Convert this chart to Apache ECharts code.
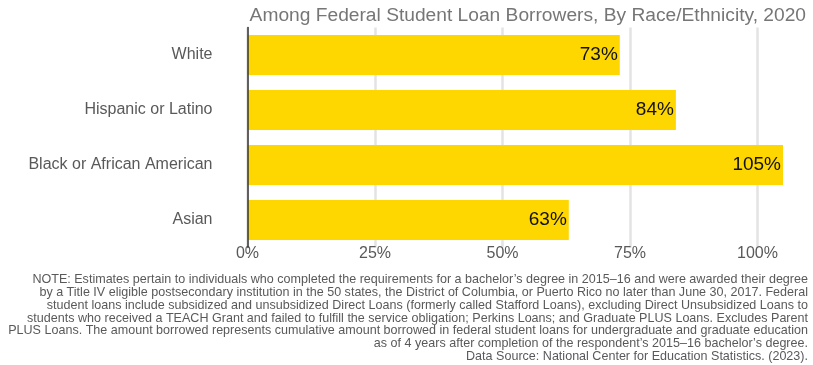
<!DOCTYPE html>
<html>
<head>
<meta charset="utf-8">
<script src="https://cdn.jsdelivr.net/npm/echarts@6/dist/echarts.min.js"></script>
<style>
  html, body { margin: 0; padding: 0; background: #fff; }
  #chart { width: 813px; height: 365px; }
</style>
</head>
<body>
<div id="chart"></div>
<script>
// Groups, listed top to bottom
const categories = ['White', 'Hispanic or Latino', 'Black or African American', 'Asian'];
// Share borrowed, percent
const values = [73, 84, 105, 63];
// Percent axis ticks
const tickValues = [0, 25, 50, 75, 100];

const titleText = 'Among Federal Student Loan Borrowers, By Race/Ethnicity, 2020';
const noteLines = [
  'NOTE: Estimates pertain to individuals who completed the requirements for a bachelor\u2019s degree in 2015\u201316 and were awarded their degree',
  'by a Title IV eligible postsecondary institution in the 50 states, the District of Columbia, or Puerto Rico no later than June 30, 2017. Federal',
  'student loans include subsidized and unsubsidized Direct Loans (formerly called Stafford Loans), excluding Direct Unsubsidized Loans to',
  'students who received a TEACH Grant and failed to fulfill the service obligation; Perkins Loans; and Graduate PLUS Loans. Excludes Parent',
  'PLUS Loans. The amount borrowed represents cumulative amount borrowed in federal student loans for undergraduate and graduate education',
  'as of 4 years after completion of the respondent\u2019s 2015\u201316 bachelor\u2019s degree.',
  'Data Source: National Center for Education Statistics. (2023).'
];

const chart = echarts.init(document.getElementById('chart'), null, { renderer: 'canvas' });

chart.setOption({
  animation: false,
  backgroundColor: '#ffffff',
  title: {
    text: titleText,
    right: 2,
    top: 1,
    textStyle: {
      fontFamily: 'Liberation Sans, Arial, sans-serif',
      fontSize: 19.2,
      fontWeight: 'normal',
      color: '#767676'
    }
  },
  graphic: [
    {
      // right-aligned source note, slightly condensed
      type: 'text',
      x: 808,
      y: 273,
      scaleX: 0.93,
      style: {
        x: 0,
        y: 0,
        text: noteLines.join('\n'),
        align: 'right',
        verticalAlign: 'top',
        font: '13.5px "Liberation Sans", Arial, sans-serif',
        lineHeight: 12.8,
        fill: '#595959'
      }
    }
  ],
  grid: {
    left: 247.5,
    right: 4.5,
    top: 27.5,
    height: 220,
    containLabel: false
  },
  xAxis: {
    type: 'value',
    min: 0,
    max: 110,
    interval: 25,
    axisLine: { show: false },
    axisTick: { show: false },
    axisLabel: {
      showMaxLabel: false,
      margin: -2,
      fontFamily: 'Liberation Sans, Arial, sans-serif',
      fontSize: 16,
      color: '#595959',
      formatter: v => (tickValues.indexOf(v) >= 0 ? v + '%' : '')
    },
    splitLine: {
      show: true,
      showMaxLine: false,
      lineStyle: { color: '#e3e3e3', width: 2.5 }
    }
  },
  yAxis: {
    type: 'category',
    data: categories,
    inverse: true,
    axisLine: { show: true, lineStyle: { color: '#333333', width: 1.5 } },
    axisTick: { show: false },
    axisLabel: {
      margin: 35,
      fontFamily: 'Liberation Sans, Arial, sans-serif',
      fontSize: 16,
      color: '#595959'
    },
    splitLine: { show: false },
    z: 5
  },
  series: [
    {
      type: 'bar',
      data: values,
      barWidth: 40,
      itemStyle: { color: '#FFD700' },
      label: {
        show: true,
        position: 'insideRight',
        distance: 2,
        formatter: p => p.value + '%',
        fontFamily: 'Liberation Sans, Arial, sans-serif',
        fontSize: 19,
        color: '#111111'
      }
    }
  ]
});
</script>
</body>
</html>
